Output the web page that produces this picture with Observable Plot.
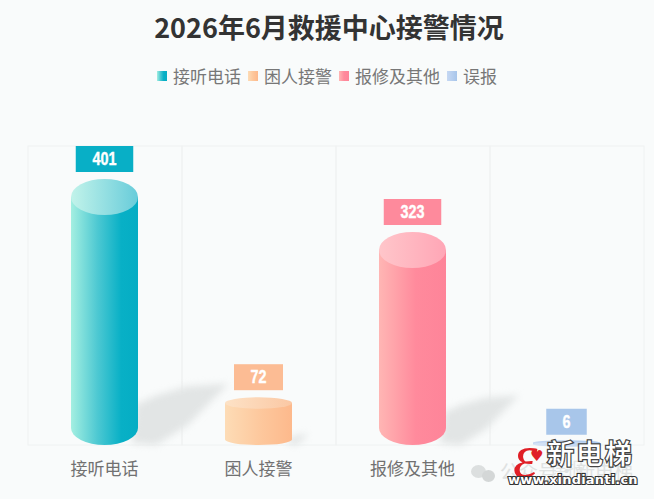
<!DOCTYPE html>
<html lang="zh">
<head>
<meta charset="utf-8">
<script src="https://cdn.jsdelivr.net/npm/d3@7"></script>
<script src="https://cdn.jsdelivr.net/npm/@observablehq/plot@0.6"></script>
<style>
html,body{margin:0;padding:0;background:#f9fbfb;width:654px;height:499px;overflow:hidden;font-family:"Noto Sans CJK SC",sans-serif;position:relative}
#title{height:54px;line-height:54px;text-align:center;font-size:27px;font-weight:700;color:#333;transform:translateX(2px)}
#legend{margin-top:9px;height:26px;display:flex;justify-content:center;gap:7px;font-size:17px;line-height:26px;color:#777}
#legend .item{display:flex;align-items:center;gap:6px}
#legend .sw{width:10px;height:10px;display:inline-block}
#chart{margin-top:11px;height:399px}
#chart svg{display:block}
.wm{position:absolute;white-space:nowrap}
.out{paint-order:stroke fill;color:#fff}
</style>
</head>
<body>
<div id="title"></div>
<div id="legend"></div>
<div id="chart"></div>
<div class="wm" style="left:471px;top:465px;width:15px;height:13px;border-radius:50%;background:#dcdfdf"></div>
<div class="wm" style="left:482px;top:470px;width:13px;height:12px;border-radius:50%;background:#d4d7d7"></div>
<div class="wm" style="left:500px;top:458px;font-size:19px;line-height:26px;color:#dfe2e2">公众号·新电梯</div>
<div class="wm" style="left:513px;top:424px;font:italic 400 62px/64px 'Liberation Serif',serif;color:#e01f26">ε</div>
<div class="wm" style="left:530px;top:447px;font:700 15px/18px 'DejaVu Sans',sans-serif;color:#e01f26">♥</div>
<div class="wm out" style="left:547px;top:435px;font-size:27px;line-height:36px;letter-spacing:2px;font-weight:500;-webkit-text-stroke:2.5px #444">新电梯</div>
<div class="wm out" style="left:508px;top:472px;font:700 13px/16px 'DejaVu Sans',sans-serif;letter-spacing:0.2px;-webkit-text-stroke:2.2px #333">www.xindianti.cn</div>
<script>
const chartTitle = "2026年6月救援中心接警情况";
const categories = ["接听电话", "困人接警", "报修及其他", "误报"];
const values = [401, 72, 323, 6];
const boxColors = ["#08afc6", "#fcbc94", "#fe8a9c", "#a8c6ea"];
const bodyStops = [
  [[0, "#a4efe1"], [0.4, "#4cc8d2"], [0.75, "#08b0c6"], [1, "#05adc4"]],
  [[0, "#fddcb6"], [0.55, "#fdc79c"], [1, "#fdb98c"]],
  [[0, "#ffb6b4"], [0.55, "#ff8a9c"], [1, "#fe8499"]],
  [[0, "#c6d8f3"], [1, "#a7c5ea"]]
];
const capStops = [
  [[0, "#c2f3ea"], [1, "#68ccda"]],
  [[0, "#fde2c6"], [1, "#fbc8a4"]],
  [[0, "#ffc6ca"], [1, "#ffa6b6"]],
  [[0, "#d6e3f6"], [1, "#b8d0ee"]]
];

document.getElementById("title").textContent = chartTitle;
const legend = document.getElementById("legend");
categories.forEach((c, i) => {
  const item = document.createElement("span");
  item.className = "item";
  const sw = document.createElement("span");
  sw.className = "sw";
  sw.style.background = `linear-gradient(90deg,${bodyStops[i].map(s => s[1]).join(",")})`;
  const t = document.createElement("span");
  t.textContent = c;
  item.append(sw, t);
  legend.append(item);
});

const NS = "http://www.w3.org/2000/svg";
const el = (name, attrs, parent) => {
  const n = document.createElementNS(NS, name);
  for (const k in attrs) n.setAttribute(k, attrs[k]);
  if (parent) parent.appendChild(n);
  return n;
};

const barW = 67;
const baseline = 345;   // frame bottom, px inside the svg
const yTop = 97, yZero = 348;
const apparentOfPx = px => (yZero - px) / (yZero - yTop) * 401;
// the 3D view is in perspective: a value appears slightly off a straight scale
const perspective = d3.scaleLinear()
  .domain([0, 72, 323, 401])
  .range([348, 303, 150, 97].map(apparentOfPx));
const ryOf = v => Math.min(18, 2.2 + 0.05 * v);
// apparent value at which the straight side of a cylinder ends
const bottomValue = v => apparentOfPx(baseline - ryOf(v) * 0.95);
const centre = s => c => s.x(c) + s.x.bandwidth() / 2 - 0.5;

const table = categories.map((c, i) => ({c, v: values[i], i}));

function defs() {
  const g = el("g", {});
  const d = el("defs", {}, g);
  const add = (id, stops) => {
    const lg = el("linearGradient", {id, x1: 0, x2: 1, y1: 0, y2: 0}, d);
    stops.forEach(([o, col]) => el("stop", {offset: o, "stop-color": col}, lg));
  };
  bodyStops.forEach((st, i) => add("b" + i, st));
  capStops.forEach((st, i) => add("c" + i, st));
  return g;
}

function shadows(index, s) {
  const g = el("g", {style: "filter:blur(3.5px)"});
  const cx = centre(s);
  table.forEach(({c, v}) => {
    const L = 0.225 * v;
    const xr = cx(c) + barW / 2, yb = baseline;
    const pts = [[-6, -2], [-2, -0.45 * L], [0.2 * L, -0.55 * L], [0.55 * L, -0.65 * L], [L, -0.68 * L],
                 [0.55 * L, -0.22 * L], [0.2 * L, 0]];
    el("polygon", {points: pts.map(([a, b]) => `${xr + a},${yb + b}`).join(" "), fill: "#e2e5e5"}, g);
  });
  return g;
}

function bottoms(index, s) {
  const g = el("g", {});
  const cx = centre(s);
  table.forEach(({c, v, i}) => {
    const r = ryOf(v) * 0.95;
    el("ellipse", {cx: cx(c), cy: baseline - r, rx: barW / 2, ry: r, fill: `url(#b${i})`}, g);
  });
  return g;
}

function caps(index, s) {
  const g = el("g", {});
  const cx = centre(s);
  table.forEach(({c, v, i}) => {
    el("ellipse", {cx: cx(c), cy: s.y(perspective(v)), rx: barW / 2, ry: ryOf(v), fill: `url(#c${i})`}, g);
  });
  return g;
}

function boxes(index, s) {
  const g = el("g", {});
  const cx = centre(s);
  table.forEach(({c, v, i}) => {
    const n = String(v).length;
    const w = 32 + 8.5 * n;
    const yc = s.y(perspective(v)) - ryOf(v) - 20;
    el("rect", {x: cx(c) - w / 2, y: yc - 13, width: w, height: 26, fill: boxColors[i]}, g);
    const t = el("text", {
      x: cx(c), y: yc, "text-anchor": "middle", "dominant-baseline": "central",
      fill: "#fff", stroke: "#fff", "stroke-width": 0.4, "font-size": 18, "font-weight": 700,
      textLength: 8 * n, lengthAdjust: "spacingAndGlyphs",
      "font-family": "'Liberation Sans',sans-serif"
    }, g);
    t.textContent = v;
  });
  return g;
}

const axisStyle = {anchor: "bottom", tickSize: 0, tickPadding: 17, label: null, fontSize: 17, lineAnchor: "top", dx: -1};

const chart = Plot.plot({
  width: 654,
  height: 399,
  marginLeft: 28,
  marginRight: 10,
  marginTop: 46,
  marginBottom: 54,
  style: {background: "transparent", fontFamily: "'Noto Sans CJK SC',sans-serif", overflow: "visible"},
  x: {domain: categories, range: [28, 644], padding: 0, label: null},
  y: {domain: [0, 401], range: [yZero, yTop], axis: null, label: null},
  color: {type: "identity"},
  marks: [
    defs,
    Plot.cell(categories, {x: d => d, fill: "none", stroke: "#eff2f2", strokeWidth: 1}),
    shadows,
    bottoms,
    Plot.barY(table, {
      x: "c",
      y1: d => bottomValue(d.v),
      y2: d => perspective(d.v),
      fill: d => `url(#b${d.i})`,
      insetLeft: (154 - barW) / 2 - 0.5,
      insetRight: (154 - barW) / 2 + 0.5
    }),
    caps,
    boxes,
    Plot.axisX({...axisStyle, ticks: categories.slice(0, 3), color: "#717171"}),
    Plot.axisX({...axisStyle, ticks: categories.slice(3), color: "#e2e5e5"})
  ]
});
document.getElementById("chart").append(chart);
</script>
</body>
</html>
